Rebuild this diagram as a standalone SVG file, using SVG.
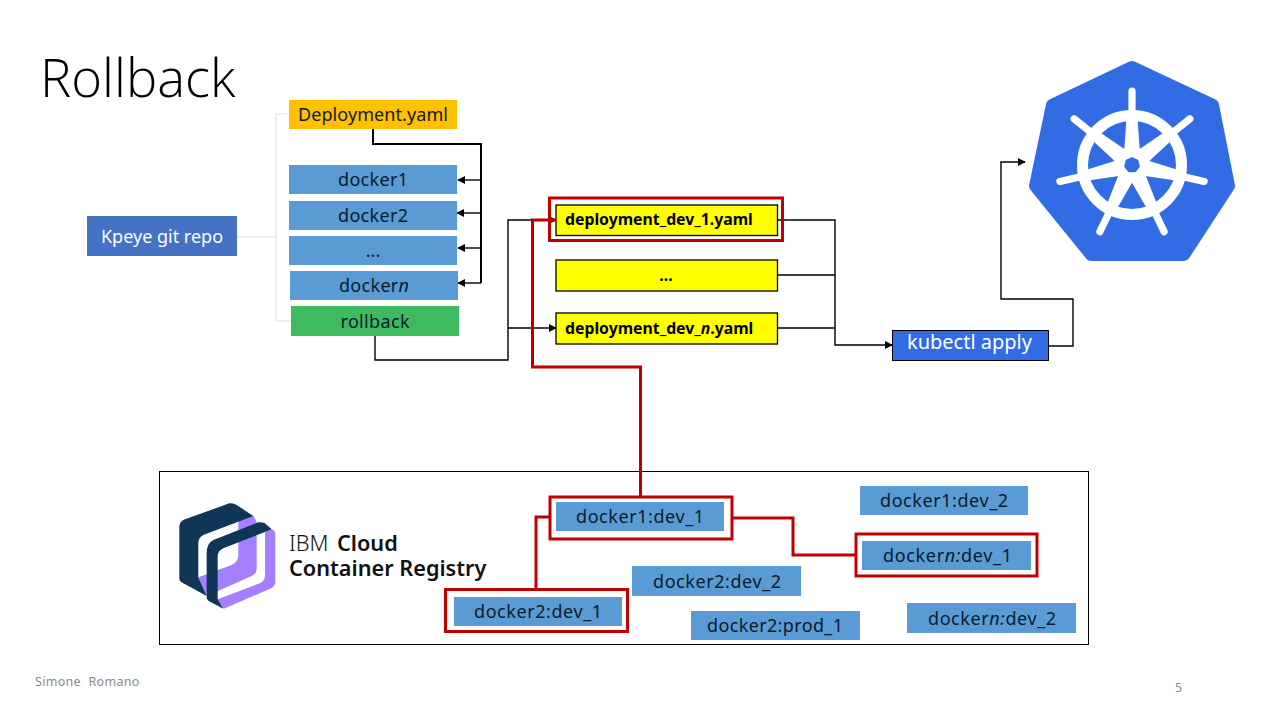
<svg xmlns="http://www.w3.org/2000/svg" xmlns:xlink="http://www.w3.org/1999/xlink" width="1280" height="720" viewBox="0 0 1280 720">
<style>
text{font-family:"Noto Sans","Open Sans","Liberation Sans",sans-serif}
.lb{font-size:18px;fill:#0b1a2b;text-anchor:middle}
.blue{fill:#5b9bd5}
.yl{fill:#ff0;stroke:#000;stroke-width:1.3}
.yt{font-size:15.800px;font-weight:700;fill:#000}
.c{fill:none;stroke:#000;stroke-width:1.4}
.g{fill:none;stroke:#e2e2e2;stroke-width:1.2}
.r{fill:none;stroke:#c00000;stroke-width:3}
</style>
<defs>
<marker id="a" viewBox="0 0 10 10" refX="9" refY="5" markerWidth="8" markerHeight="8" markerUnits="userSpaceOnUse" orient="auto"><path d="M0 0L10 5L0 10Z" fill="#000"/></marker>
<g id="spoke"><path d="M-8 -12L-5.500 -46L-3.600 -50L-3.600 -74A3.600 3.600 0 0 1 3.600 -74L3.600 -50L5.500 -46L8 -12Z" fill="#fff"/></g>
</defs>
<rect width="1280" height="720" fill="#fff"/>
<text id="title" x="40" y="97" font-size="52.600" fill="#000" style="font-family:'Open Sans','Noto Sans',sans-serif;font-weight:300">Rollback</text>
<g id="connectors">
<path class="g" d="M237 237H276M289 114H276V321H291"/>
<path class="c" style="stroke-width:2" d="M373 127V144H481V283"/>
<path class="c" d="M481 180H458" marker-end="url(#a)"/>
<path class="c" d="M481 213H457" marker-end="url(#a)"/>
<path class="c" d="M481 248H458" marker-end="url(#a)"/>
<path class="c" d="M481 283H458" marker-end="url(#a)"/>
<path class="c" d="M375 336V360H508V220H556" marker-end="url(#a)"/>
<path class="c" d="M508 328H556" marker-end="url(#a)"/>
<path class="c" d="M778 220H835V345H892" marker-end="url(#a)"/>
<path class="c" d="M778 275H835M778 328H835"/>
<path class="c" d="M1049 346H1073V299H1001V162H1025" marker-end="url(#a)"/>
</g>
<g id="kpeye"><rect x="87" y="216" width="150" height="40" fill="#4472c4"/><text x="162" y="243" font-size="18" fill="#fff" text-anchor="middle">Kpeye git repo</text></g>
<g id="deployment"><rect x="289" y="100" width="168" height="29" fill="#ffc000"/><text class="lb" x="373" y="121" textLength="150">Deployment.yaml</text></g>
<g id="docker1"><rect class="blue" x="289" y="165" width="168" height="29"/><text class="lb" x="373" y="186" textLength="70">docker1</text></g>
<g id="docker2"><rect class="blue" x="289" y="201" width="168" height="29"/><text class="lb" x="373" y="222" textLength="70">docker2</text></g>
<g id="dockerdots"><rect class="blue" x="289" y="236" width="168" height="29"/><text class="lb" x="373" y="257">...</text></g>
<g id="dockern"><rect class="blue" x="290" y="271" width="168" height="29"/><text class="lb" x="374" y="292" textLength="70">docker<tspan font-style="italic">n</tspan></text></g>
<g id="rollback"><rect x="291" y="306" width="168" height="30" fill="#3dbb5e"/><text class="lb" x="375" y="328" textLength="69">rollback</text></g>
<g id="yaml1"><rect class="yl" x="556" y="205" width="221.500" height="30.500"/><text class="yt" x="565" y="225">deployment_dev_1.yaml</text></g>
<g id="yamldots"><rect class="yl" x="556" y="260" width="221.500" height="31"/><text class="yt" x="666" y="281" text-anchor="middle">...</text></g>
<g id="yamln"><rect class="yl" x="556" y="313" width="221.500" height="31"/><text class="yt" x="565" y="334">deployment_dev_<tspan font-style="italic">n</tspan>.yaml</text></g>
<g id="kubectl"><rect x="892.500" y="330.500" width="156" height="30" fill="#326ce5" stroke="#000" stroke-width="1"/><text x="907" y="349" font-size="20" fill="#fff">kubectl apply</text></g>
<g id="kubernetes">
<path d="M1132 67L1213 105L1229 186L1184 255L1091 255L1035 186L1052 105Z" fill="#326ce5" stroke="#326ce5" stroke-width="12" stroke-linejoin="round"/>
<circle cx="1132" cy="165" r="49.500" fill="none" stroke="#fff" stroke-width="11"/>
<g transform="translate(1132 165)">
<use xlink:href="#spoke" href="#spoke"/>
<use xlink:href="#spoke" href="#spoke" transform="rotate(51.430)"/>
<use xlink:href="#spoke" href="#spoke" transform="rotate(102.860)"/>
<use xlink:href="#spoke" href="#spoke" transform="rotate(154.290)"/>
<use xlink:href="#spoke" href="#spoke" transform="rotate(205.710)"/>
<use xlink:href="#spoke" href="#spoke" transform="rotate(257.140)"/>
<use xlink:href="#spoke" href="#spoke" transform="rotate(308.570)"/>
<circle r="18" fill="#fff"/>
<path d="M0 -8L6.300 -5L7.800 1.800L3.500 7.200L-3.500 7.200L-7.800 1.800L-6.300 -5Z" fill="#326ce5"/>
</g>
</g>
<g id="registry">
<rect x="159.500" y="471.500" width="929" height="173" fill="none" stroke="#000" stroke-width="1"/>
<g id="ibmlogo" transform="translate(170 490) scale(.3333)">
<path d="M205 88L250 78L260 95V235Q260 252 245 258L110 318L85 262L185 225Q205 215 205 195Z" fill="#a57fff"/>
<path d="M28 110Q28 95 45 88L178 40Q190 38 200 45L250 78L100 135Q85 142 85 160V262L110 318L40 280Q28 275 28 265Z" fill="#0f3557"/>
<path d="M305 118Q316 122 316 135V275Q316 290 300 296L165 355Q158 357 150 352L143 328L270 280Q285 272 285 255V125Z" fill="#a57fff"/>
<path d="M110 190Q110 160 130 150L265 97Q275 95 285 100L305 118L160 175Q143 182 143 200V328L158 355L120 335Q110 330 110 320Z" fill="#0f3557"/>
</g>
<text x="289" y="551" font-size="21.700" fill="#111"><tspan font-weight="300">IBM </tspan><tspan font-weight="600" dx="3">Cloud</tspan></text>
<text x="289" y="576" font-size="21.700" font-weight="600" fill="#111">Container Registry</text>
</g>
<g id="img1"><rect class="blue" x="556" y="502" width="168" height="29"/><text class="lb" x="640" y="523" textLength="128">docker1:dev_1</text></g>
<g id="img2"><rect class="blue" x="860" y="486" width="168" height="29"/><text class="lb" x="944" y="507" textLength="128">docker1:dev_2</text></g>
<g id="img3"><rect class="blue" x="862" y="541" width="169" height="29"/><text class="lb" x="947.500" y="562" textLength="129">docker<tspan font-style="italic">n:</tspan>dev_1</text></g>
<g id="img4"><rect class="blue" x="632" y="566" width="169" height="30"/><text class="lb" x="717" y="588" textLength="128">docker2:dev_2</text></g>
<g id="img5"><rect class="blue" x="454" y="597" width="168" height="29"/><text class="lb" x="538" y="618" textLength="128">docker2:dev_1</text></g>
<g id="img6"><rect class="blue" x="691" y="611" width="169" height="29"/><text class="lb" x="775" y="632" textLength="136">docker2:prod_1</text></g>
<g id="img7"><rect class="blue" x="907" y="603" width="169" height="30"/><text class="lb" x="992" y="625" textLength="128">docker<tspan font-style="italic">n:</tspan>dev_2</text></g>
<g id="highlights">
<rect class="r" x="549.500" y="198" width="233" height="42.500"/>
<rect class="r" x="550" y="497" width="182" height="42"/>
<rect class="r" x="445.500" y="589.500" width="182" height="42"/>
<rect class="r" x="856" y="534" width="181" height="42"/>
<path class="r" d="M556 220H532.500V367H640.500V497M550 517H536V589M732 518H793V555H856"/>
</g>
<text id="author" x="35" y="686" font-size="12.500" fill="#8a8a8a" letter-spacing=".3" word-spacing="4">Simone Romano</text>
<text id="page" x="1175" y="692" font-size="12.500" fill="#8a8a8a">5</text>
</svg>
